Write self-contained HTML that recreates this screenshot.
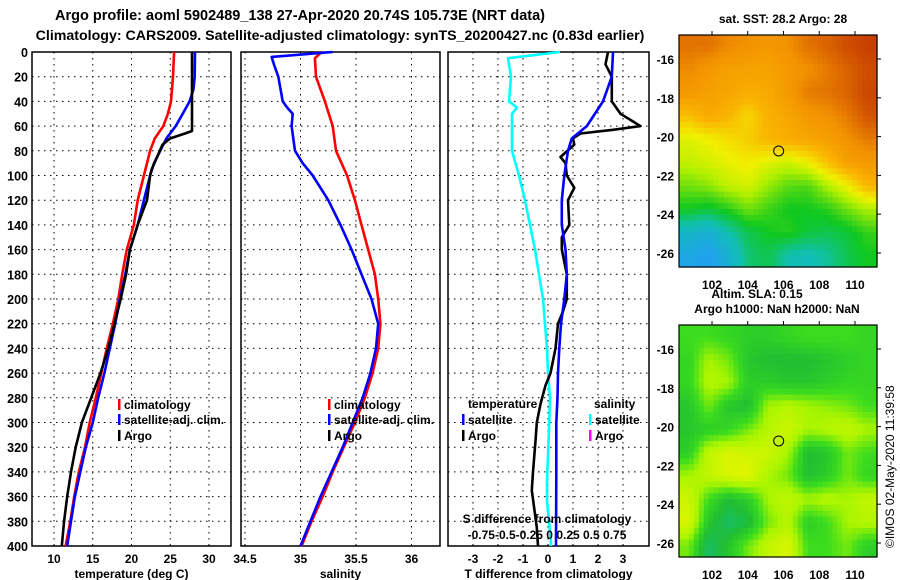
<!DOCTYPE html>
<html><head><meta charset="utf-8"><style>
body{margin:0;background:#fff;}
svg{display:block;font-family:"Liberation Sans",sans-serif;font-weight:bold;}
</style></head><body>
<svg id="c" width="900" height="580" xmlns="http://www.w3.org/2000/svg">
<text x="300" y="20" font-size="14.5" text-anchor="middle">Argo profile: aoml 5902489_138 27-Apr-2020 20.74S 105.73E (NRT data)</text>
<text x="340" y="40" font-size="14.2" text-anchor="middle">Climatology: CARS2009. Satellite-adjusted climatology: synTS_20200427.nc (0.83d earlier)</text>
<g id="p1"></g>
<g id="p2"></g>
<g id="p3"></g>
<g id="m1"></g>
<g id="m2"></g>
<text x="783" y="23" font-size="12" text-anchor="middle">sat. SST: 28.2 Argo: 28</text>
<text x="757" y="298" font-size="12" text-anchor="middle">Altim. SLA: 0.15</text>
<text x="777" y="313" font-size="12" text-anchor="middle">Argo h1000: NaN h2000: NaN</text>
<text transform="translate(894,548) rotate(-90)" font-size="12" font-weight="normal">©IMOS 02-May-2020 11:39:58</text>
</svg>
<script>
const NS="http://www.w3.org/2000/svg";
// ---- data ----
const tDepthClim=[0,20,40,50,60,70,80,100,120,140,160,180,200,220,240,260,280,300,320,340,360,380,400];
const tClim=[25.5,25.35,25.1,24.7,24.1,23,22.4,21.6,20.8,20.3,19.4,18.8,18.3,17.6,16.8,16.1,15.4,14.6,14,13.2,12.6,12.1,11.5];
const tDepthSat=[0,20,30,40,50,60,70,80,90,100,120,140,160,180,200,220,240,260,280,300,320,340,360,380,400];
const tSat=[28.2,28.15,28,27.5,26.6,25.7,24.5,23.7,22.9,22.4,21.6,20.8,19.8,19.2,18.5,17.9,17.2,16.5,15.7,15,14.1,13.4,12.7,12.2,11.7];
const tDepthArgo=[0,64,66,70,75,85,95,100,120,130,140,160,180,200,220,240,260,280,300,320,340,360,380,400];
const tArgo=[27.8,27.8,26.9,25,24,23.3,22.6,22.4,22,21.4,20.8,19.8,19.3,18.6,17.8,17,16,14.8,13.6,12.8,12.2,11.7,11.3,11];
const sDepthClim=[0,5,20,40,60,80,100,120,140,160,180,200,220,240,260,280,300,320,340,360,380,400];
const sClim=[35.19,35.13,35.14,35.22,35.29,35.32,35.42,35.49,35.55,35.61,35.67,35.7,35.72,35.7,35.65,35.58,35.49,35.39,35.29,35.2,35.1,35.01];
const sDepthSat=[0,4,10,20,30,40,45,50,60,80,90,100,120,140,160,180,200,220,240,260,280,300,320,340,360,380,400];
const sSat=[35.29,34.74,34.76,34.8,34.82,34.84,34.88,34.93,34.92,34.95,35.02,35.11,35.25,35.36,35.46,35.55,35.64,35.7,35.68,35.63,35.56,35.47,35.38,35.28,35.18,35.09,35.0];
const dDepthSat=[0,20,40,60,70,80,100,120,140,160,180,200,220,240,260,280,300,340,400];
const dTSat=[2.6,2.55,2.2,1.55,0.95,0.8,0.65,0.55,0.55,0.7,0.75,0.65,0.52,0.45,0.4,0.38,0.33,0.33,0.32];
const dDepthArgo=[0,10,20,40,50,60,63,66,70,75,85,90,100,110,120,140,150,160,180,200,210,220,240,260,270,285,300,315,340,355,370,385,400];
const dTArgo=[2.4,2.3,2.55,2.55,2.9,3.7,2.6,1.3,1.0,1.05,0.5,0.7,0.75,1.05,0.8,0.85,0.55,0.55,0.75,0.75,0.6,0.4,0.3,0.1,-0.1,-0.3,-0.45,-0.5,-0.6,-0.65,-0.55,-0.45,-0.4];
const dDepthS=[0,5,20,40,45,50,60,80,100,120,140,160,180,200,220,240,260,280,306,347,363,397,400];
const dSSat=[0.12,-0.4,-0.37,-0.39,-0.31,-0.36,-0.36,-0.36,-0.29,-0.23,-0.18,-0.13,-0.09,-0.05,-0.03,-0.01,0,0.02,0.01,-0.01,-0.01,0.03,0.03];
const depthTicks=[0,20,40,60,80,100,120,140,160,180,200,220,240,260,280,300,320,340,360,380,400];
const tTicks=[10,15,20,25,30];
const sTicks=[34.5,35,35.5,36];
const dTicks=[-3,-2,-1,0,1,2,3];
const sstGrid=[
[0.86,0.86,0.83,0.82,0.8,0.82,0.86,0.88,0.91,0.93],
[0.83,0.8,0.78,0.77,0.77,0.8,0.82,0.85,0.88,0.91],
[0.8,0.78,0.76,0.74,0.75,0.8,0.85,0.86,0.88,0.92],
[0.7,0.75,0.72,0.66,0.73,0.76,0.8,0.82,0.85,0.9],
[0.6,0.62,0.65,0.68,0.72,0.74,0.76,0.78,0.82,0.85],
[0.57,0.59,0.61,0.63,0.6,0.58,0.62,0.7,0.78,0.8],
[0.5,0.52,0.57,0.59,0.53,0.48,0.47,0.55,0.62,0.72],
[0.42,0.4,0.44,0.5,0.46,0.42,0.42,0.44,0.5,0.55],
[0.25,0.22,0.3,0.38,0.42,0.44,0.4,0.38,0.4,0.45],
[0.18,0.15,0.22,0.35,0.38,0.3,0.28,0.32,0.38,0.42]];
const slaGrid=[
[0.5,0.5,0.45,0.4,0.4,0.45,0.5,0.5,0.5,0.45],
[0.45,0.7,0.6,0.35,0.3,0.3,0.3,0.35,0.4,0.45],
[0.45,0.75,0.7,0.4,0.4,0.35,0.35,0.4,0.45,0.45],
[0.35,0.6,0.35,0.3,0.7,0.75,0.7,0.65,0.6,0.5],
[0.35,0.4,0.45,0.6,0.75,0.85,0.7,0.75,0.8,0.7],
[0.4,0.8,0.9,0.85,0.85,0.7,0.3,0.35,0.6,0.5],
[0.7,0.8,0.9,0.95,0.7,0.6,0.3,0.4,0.6,0.45],
[0.85,0.5,0.3,0.4,0.7,0.8,0.7,0.75,0.7,0.8],
[0.9,0.35,0.15,0.25,0.6,0.75,0.4,0.5,0.7,0.75],
[0.6,0.15,0.35,0.6,0.8,0.9,0.5,0.5,0.6,0.4]];
const lonTicks=[102,104,106,108,110];
const latTicks=[-16,-18,-20,-22,-24,-26];
const argoLon=105.73, argoLat=-20.74;

function el(p,tag,a,txt){const e=document.createElementNS(NS,tag);for(const k in a)e.setAttribute(k,a[k]);if(txt!==undefined)e.textContent=txt;p.appendChild(e);return e;}
const Y0=52,Y1=546;
const yD=d=>Y0+(Y1-Y0)*d/400;
function panel(g,x0,x1,xs,ticks,fmt,title,yLabels){
  depthTicks.forEach(d=>{const l=el(g,'line',{x1:x0,x2:x1,y1:yD(d),y2:yD(d),stroke:'#000','stroke-dasharray':'1.5,4.5','stroke-width':1});
    
    if(yLabels){const t=el(g,'text',{x:x0-4,y:yD(d)+5,'font-size':12.5,'text-anchor':'end'},d);}});
  ticks.forEach(v=>{const x=xs(v);const l=el(g,'line',{x1:x,x2:x,y1:Y0,y2:Y1,stroke:'#000','stroke-dasharray':'1.5,4.5','stroke-width':1});
    
    const t=el(g,'text',{x:x,y:563,'font-size':12,'text-anchor':'middle'},fmt(v));});
  const r=el(g,'rect',{x:x0,y:Y0,width:x1-x0,height:Y1-Y0,fill:'none',stroke:'#000','stroke-width':1.5});
  
  const t=el(g,'text',{x:(x0+x1)/2,y:578,'font-size':12,'text-anchor':'middle'},title);
  
}
function line(g,xs,vals,depths,color,name){
  const pts=vals.map((v,i)=>xs(v).toFixed(1)+','+yD(depths[i]).toFixed(1)).join(' ');
  const p=el(g,'polyline',{points:pts,fill:'none',stroke:color,'stroke-width':2.6,'stroke-linejoin':'round'});
  
}
function legend(g,x,y,color,label){
  const r=el(g,'rect',{x:x,y:y-10,width:2.5,height:11,fill:color});
  
  const t=el(g,'text',{x:x+6,y:y,'font-size':12},label);
  
}
// panel 1
const p1=document.getElementById('p1');
const xT=v=>54+(v-10)*7.75;
panel(p1,32,231,xT,tTicks,v=>v,'temperature (deg C)',true);
line(p1,xT,tClim,tDepthClim,'#f00','temp-climatology-line');
line(p1,xT,tSat,tDepthSat,'#00f','temp-satellite-line');
line(p1,xT,tArgo,tDepthArgo,'#000','temp-argo-line');
legend(p1,118,409,'#f00','climatology');legend(p1,118,424,'#00f','satellite-adj. clim.');legend(p1,118,440,'#000','Argo');
// panel 2
const p2=document.getElementById('p2');
const xS=v=>245+(v-34.5)*111;
panel(p2,241,440,xS,sTicks,v=>v,'salinity',false);
line(p2,xS,sClim,sDepthClim,'#f00','sal-climatology-line');
line(p2,xS,sSat,sDepthSat,'#00f','sal-satellite-line');
legend(p2,328,409,'#f00','climatology');legend(p2,328,424,'#00f','satellite-adj. clim.');legend(p2,328,440,'#000','Argo');
// panel 3
const p3=document.getElementById('p3');
const xDT=v=>548+v*25, xDS=v=>548+v*100;
panel(p3,448,649,xDT,dTicks,v=>v,'T difference from climatology',false);
line(p3,xDS,dSSat,dDepthS,'#0ff','sdiff-satellite-line');
line(p3,xDT,dTArgo,dDepthArgo,'#000','tdiff-argo-line');
line(p3,xDT,dTSat,dDepthSat,'#00f','tdiff-satellite-line');
[['temperature',468,408],['salinity',594,408]].forEach(a=>{const t=el(p3,'text',{x:a[1],y:a[2],'font-size':12},a[0]);});
legend(p3,462,424,'#00f','satellite');legend(p3,462,440,'#000','Argo');
legend(p3,589,424,'#0ff','satellite');legend(p3,589,440,'#f0f','Argo');
{const t=el(p3,'text',{x:547,y:523,'font-size':12,'text-anchor':'middle'},'S difference from climatology');
 const u=el(p3,'text',{x:547,y:539,'font-size':12,'text-anchor':'middle'},'-0.75-0.5-0.25  0  0.25 0.5 0.75');}
// maps
function lerpC(stops,v){v=Math.max(0,Math.min(1,v));for(let i=1;i<stops.length;i++){if(v<=stops[i][0]){const a=stops[i-1],b=stops[i],t=(v-a[0])/(b[0]-a[0]);return 'rgb('+[1,2,3].map(k=>Math.round(a[k]+(b[k]-a[k])*t)).join(',')+')';}}const s=stops[stops.length-1];return 'rgb('+s[1]+','+s[2]+','+s[3]+')';}
const sstStops=[[0,16,80,224],[0.15,32,160,240],[0.3,16,192,176],[0.42,16,200,32],[0.55,176,240,0],[0.62,240,240,0],[0.72,250,180,0],[0.82,242,146,0],[0.9,210,84,0],[1,176,16,0]];
const slaStops=[[0,16,190,150],[0.3,32,190,50],[0.5,60,220,30],[0.7,170,245,0],[1,240,245,0]];
function map(g,top,grid,stops,name){
  const x0=679,x1=877,y1=top+232,N=40;
  const xl=v=>712+(v-102)*17.875, yl=v=>top+24+(-16-v)*19.4;
  const R=grid.length,C=grid[0].length,cw=(x1-x0)/N,ch=(y1-top)/N;
  for(let i=0;i<N;i++)for(let j=0;j<N;j++){
    const gy=(i+0.5)/N*R-0.5, gx=(j+0.5)/N*C-0.5;
    const r0=Math.max(0,Math.min(R-1,Math.floor(gy))),r1=Math.min(R-1,r0+1),c0=Math.max(0,Math.min(C-1,Math.floor(gx))),c1=Math.min(C-1,c0+1);
    const fy=Math.max(0,Math.min(1,gy-r0)),fx=Math.max(0,Math.min(1,gx-c0));
    const v=grid[r0][c0]*(1-fx)*(1-fy)+grid[r0][c1]*fx*(1-fy)+grid[r1][c0]*(1-fx)*fy+grid[r1][c1]*fx*fy;
    const c=el(g,'rect',{x:(x0+j*cw).toFixed(2),y:(top+i*ch).toFixed(2),width:(cw+0.6).toFixed(2),height:(ch+0.6).toFixed(2),fill:lerpC(stops,v)});
    
  }
  const f=el(g,'rect',{x:x0,y:top,width:x1-x0,height:y1-top,fill:'none',stroke:'#000','stroke-width':1.2});
  
  lonTicks.forEach(v=>{el(g,'line',{x1:xl(v),x2:xl(v),y1:top-4,y2:top,stroke:'#000'});
    const t=el(g,'text',{x:xl(v),y:y1+22,'font-size':12,'text-anchor':'middle'},v);});
  latTicks.forEach(v=>{el(g,'line',{x1:x1,x2:x1+4,y1:yl(v),y2:yl(v),stroke:'#000'});
    const t=el(g,'text',{x:x0-5,y:yl(v)+5,'font-size':12,'text-anchor':'end'},v);});
  const c=el(g,'circle',{cx:xl(argoLon),cy:yl(argoLat),r:5,fill:'none',stroke:'#000','stroke-width':1});
  
}
map(document.getElementById('m1'),35,sstGrid,sstStops,'sst-map');
map(document.getElementById('m2'),325,slaGrid,slaStops,'sla-map');
</script>
</body></html>
